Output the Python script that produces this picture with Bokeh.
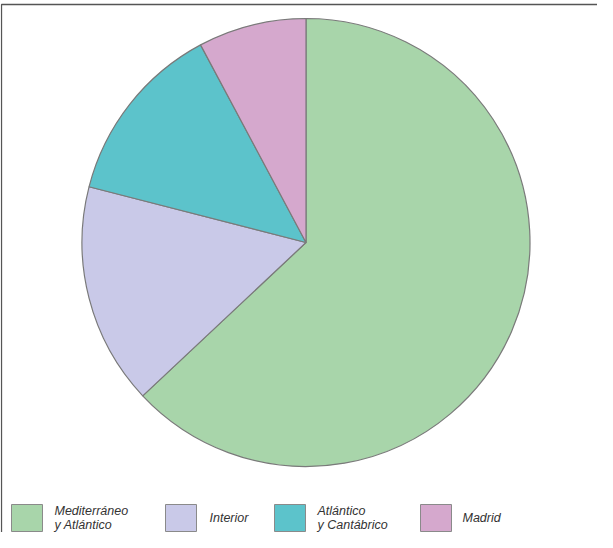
import numpy as np
from bokeh.plotting import figure
from bokeh.models import ColumnDataSource, Range1d
from bokeh.core.properties import value
from bokeh.embed import file_html
from bokeh.resources import INLINE

# ---- data ----
categories = ["Mediterráneo\ny Atlántico", "Interior", "Atlántico\ny Cantábrico", "Madrid"]
shares = [63.0, 16.0, 13.2, 7.8]
colors = ["#a8d5aa", "#c9c9e8", "#5cc3cb", "#d5a8cd"]

W, H = 597, 532
p = figure(width=W, height=H, output_backend="svg", toolbar_location=None,
           x_range=Range1d(0, W), y_range=Range1d(0, H), min_border=0)
p.axis.visible = False
p.grid.visible = False
p.outline_line_color = None
p.background_fill_color = "white"

def sx(x):  # page x -> data
    return x - 8
def sy(y):  # page y -> data
    return 540 - y

# frame
p.line([sx(9), sx(9), sx(613)], [sy(548), sy(12), sy(12)], line_color="#555555", line_width=1.3)

# pie
frac = np.array(shares) / np.sum(shares)
cum = np.concatenate([[0], np.cumsum(frac)])
start = np.pi / 2 - 2 * np.pi * cum[:-1]
end = np.pi / 2 - 2 * np.pi * cum[1:]
src = ColumnDataSource(dict(start=start, end=end, color=colors))
p.wedge(x=sx(313.5), y=sy(250), radius=224, start_angle="start", end_angle="end",
        direction="clock", fill_color="color", line_color="#7a7a7a", line_width=1.2, source=src)

# legend
box_x = [19, 173, 282, 428]
txt_x = [62, 217, 325, 470]
bx = [sx(x + 15.5) for x in box_x]
by = [sy(525.5)] * 4
p.rect(x=bx, y=by, width=31, height=27, fill_color=colors, line_color="#8a8a8a", line_width=1)
p.text(x=[sx(x) for x in txt_x], y=[sy(525)] * 4, text=categories,
       text_font=value("Liberation Sans"), text_font_style="italic", text_font_size="12.5px",
       text_color="#333333", text_baseline="middle", text_align="left", text_line_height=1.0)

open("out.html", "w").write(file_html(p, INLINE))
